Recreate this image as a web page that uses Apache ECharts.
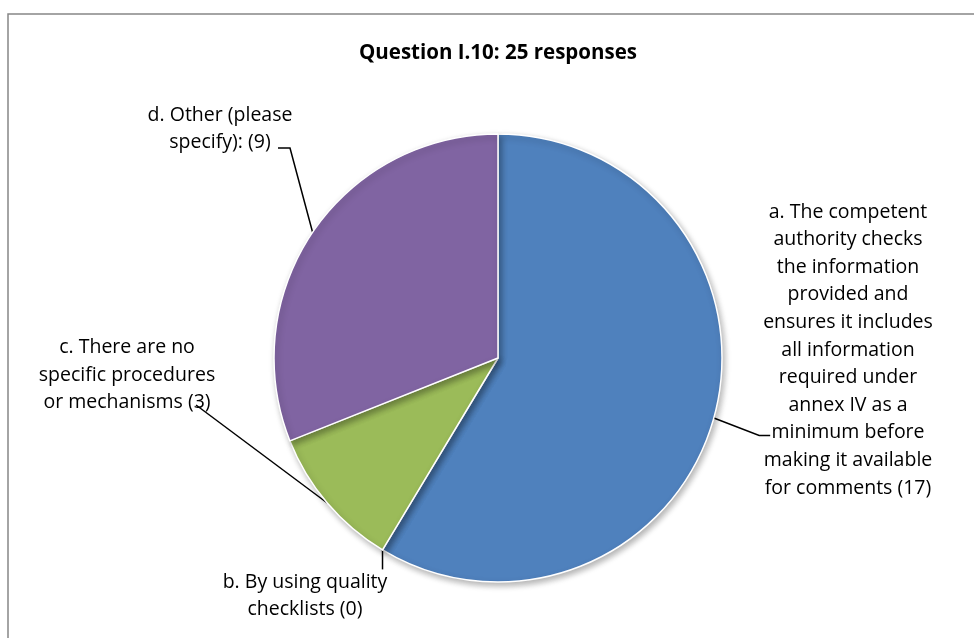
<!DOCTYPE html>
<html>
<head>
<meta charset="utf-8">
<script src="https://cdn.jsdelivr.net/npm/echarts@6/dist/echarts.min.js"></script>
<style>
  html, body { margin: 0; padding: 0; background: #fff; }
  #chart { width: 974px; height: 638px; }
</style>
</head>
<body>
<div id="chart"></div>
<script>
const categories = [
    'a. The competent\nauthority checks\nthe information\nprovided and\nensures it includes\nall information\nrequired under\nannex IV as a\nminimum before\nmaking it available\nfor comments (17)',
    'b. By using quality\nchecklists (0)',
    'c. There are no\nspecific procedures\nor mechanisms (3)',
    'd. Other (please\nspecify): (9)',
];
const values = [17, 0, 3, 9];
const colors = ['#4f81bd', '#c0504d', '#9bbb59', '#8064a2'];

const CENTER = [498, 358];
const RADIUS = 224;
const LINE_H = 27.6;

// where each label block sits (centre of the text block)
const labelSpots = [
    {x: 848, y: 350},
    {x: 305, y: 596},
    {x: 127, y: 375},
    {x: 220, y: 129},
];

const total = values.reduce((a, b) => a + b, 0);

// point on the rim at the middle angle of slice i (clockwise from 12 o'clock)
function rimPoint(i) {
    let before = 0;
    for (let k = 0; k < i; k++) before += values[k];
    const ang = (before + values[i] / 2) / total * Math.PI * 2;
    return [CENTER[0] + RADIUS * Math.sin(ang), CENTER[1] - RADIUS * Math.cos(ang)];
}

// leader line shapes, Excel style
function leader(i, w, h) {
    const s = labelSpots[i];
    const p0 = rimPoint(i);
    const left = s.x - w / 2;
    const top = s.y - h / 2;
    if (i === 0) {
        const y = top + LINE_H * 8.6;
        return [p0, [left - 4, y], [left + 7, y]];
    }
    if (i === 1) {
        return [p0, [p0[0], top + 1]];
    }
    if (i === 2) {
        return [p0, [s.x + 69, s.y + 30]];
    }
    return [p0, [s.x + 70, s.y + 19], [s.x + 58, s.y + 19]];
}

const chart = echarts.init(document.getElementById('chart'));
chart.setOption({
    animation: false,
    title: {
        text: 'Question I.10: 25 responses',
        left: 493,
        top: 38,
        textAlign: 'center',
        textStyle: {
            fontFamily: 'Open Sans',
            fontSize: 20.5,
            fontWeight: 'bold',
            color: '#000',
        },
    },
    graphic: [{
        type: 'rect',
        shape: {x: 8, y: 14, width: 1000, height: 700},
        style: {fill: 'none', stroke: '#868686', lineWidth: 1.5},
        silent: true,
    }],
    series: [{
        type: 'pie',
        center: CENTER,
        radius: RADIUS,
        startAngle: 90,
        clockwise: true,
        avoidLabelOverlap: false,
        itemStyle: {
            borderColor: '#fff',
            borderWidth: 1.5,
            shadowBlur: 6,
            shadowOffsetX: 2,
            shadowOffsetY: 3,
            shadowColor: 'rgba(0,0,0,0.3)',
        },
        label: {
            show: true,
            position: 'outside',
            formatter: '{b}',
            fontFamily: 'Open Sans',
            fontSize: 19.5,
            lineHeight: LINE_H,
            color: '#000',
            align: 'center',
        },
        labelLine: {
            show: true,
            length: 10,
            length2: 10,
            lineStyle: {color: '#000', width: 1.5},
        },
        labelLayout: function (params) {
            const i = params.dataIndex;
            const s = labelSpots[i];
            const r = params.labelRect;
            return {
                x: s.x,
                y: s.y,
                align: 'center',
                verticalAlign: 'middle',
                labelLinePoints: leader(i, r.width, r.height),
            };
        },
        data: categories.map((name, i) => ({
            name: name,
            value: values[i],
            itemStyle: {color: colors[i]},
        })),
    }],
});
</script>
</body>
</html>
